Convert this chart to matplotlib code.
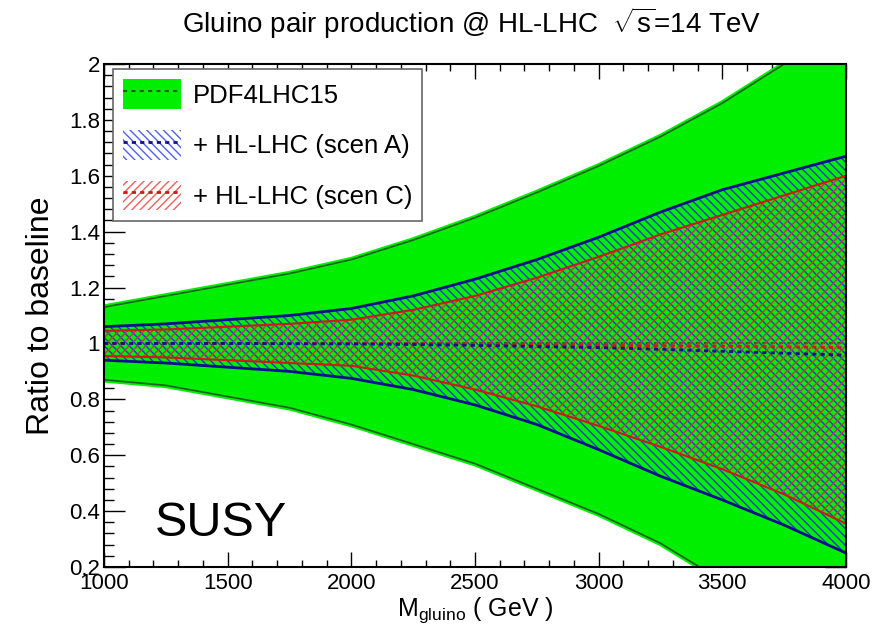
import matplotlib.pyplot as plt
from matplotlib.lines import Line2D
from matplotlib.patches import Patch
from matplotlib.ticker import MultipleLocator, AutoMinorLocator, FuncFormatter

plt.rcParams['font.family'] = ['Liberation Sans', 'DejaVu Sans']
plt.rcParams['mathtext.fontset'] = 'custom'
plt.rcParams['mathtext.rm'] = 'Liberation Sans'
plt.rcParams['mathtext.it'] = 'Liberation Sans:italic'
plt.rcParams['hatch.linewidth'] = 1.0

# gluino mass points (GeV)
mass = [1000, 1250, 1500, 1750, 2000, 2250, 2500, 2750, 3000, 3250, 3500, 3750, 4000]

# PDF4LHC15 baseline band
pdf_up = [1.13, 1.17, 1.21, 1.25, 1.30, 1.37, 1.45, 1.54, 1.635, 1.74, 1.86, 2.00, 2.16]
pdf_dn = [0.87, 0.85, 0.81, 0.77, 0.71, 0.64, 0.57, 0.48, 0.39, 0.285, 0.15, 0.00, -0.17]
pdf_cen = [1.0] * 13

# + HL-LHC scenario A
scA_up = [1.06, 1.07, 1.085, 1.10, 1.125, 1.17, 1.23, 1.30, 1.38, 1.47, 1.55, 1.61, 1.67]
scA_dn = [0.94, 0.93, 0.915, 0.90, 0.875, 0.835, 0.78, 0.71, 0.62, 0.525, 0.44, 0.35, 0.25]
scA_cen = [1.0, 1.0, 1.0, 0.999, 0.998, 0.996, 0.993, 0.989, 0.985, 0.979, 0.972, 0.965, 0.958]

# + HL-LHC scenario C
scC_up = [1.045, 1.05, 1.06, 1.07, 1.085, 1.12, 1.17, 1.235, 1.31, 1.39, 1.46, 1.53, 1.60]
scC_dn = [0.955, 0.95, 0.94, 0.93, 0.92, 0.885, 0.835, 0.775, 0.705, 0.63, 0.55, 0.46, 0.355]
scC_cen = [1.0, 1.0, 1.0, 1.0, 1.0, 0.999, 0.998, 0.996, 0.993, 0.992, 0.99, 0.988, 0.985]

green = '#00ee00'
dkgreen = '#1f5f1f'
navy = '#10108c'
red = '#d01818'
hatch_blue = '#2838c8'
hatch_red = '#c83838'

fig = plt.figure(figsize=(8.72, 6.31), dpi=100)
ax = fig.add_axes([0.1193, 0.1014, 0.8509, 0.7972])
ax.set_axisbelow(True)

# baseline band
ax.fill_between(mass, pdf_dn, pdf_up, color=green, lw=0, zorder=1)
for edge in (pdf_up, pdf_dn):
    ax.plot(mass, edge, color=green, lw=4, zorder=1.1)
    ax.plot(mass, edge, color=dkgreen, lw=1.2, zorder=1.2)
ax.plot(mass, pdf_cen, color=dkgreen, lw=1.5, ls=(0, (2, 2)), zorder=1.3)

# scenario bands (hatched)
ax.fill_between(mass, scA_dn, scA_up, facecolor='none', edgecolor=hatch_blue,
                lw=0, hatch='\\\\\\\\', zorder=2)
ax.fill_between(mass, scC_dn, scC_up, facecolor='none', edgecolor=hatch_red,
                lw=0, hatch='////', zorder=2.1)
for edge in (scA_up, scA_dn):
    ax.plot(mass, edge, color=navy, lw=2, zorder=3)
for edge in (scC_up, scC_dn):
    ax.plot(mass, edge, color=red, lw=1.5, zorder=3.1)
ax.plot(mass, scC_cen, color=red, lw=2, ls=(0, (1.5, 1.5)), zorder=3.2)
ax.plot(mass, scA_cen, color=navy, lw=2, ls=(0, (1.5, 1.5)), zorder=3.3)

ax.set_xlim(1000, 4000)
ax.set_ylim(0.2, 2.0)
ax.xaxis.set_major_locator(MultipleLocator(500))
ax.xaxis.set_minor_locator(MultipleLocator(100))
ax.yaxis.set_major_locator(MultipleLocator(0.2))
ax.yaxis.set_minor_locator(AutoMinorLocator(5))
ax.yaxis.set_major_formatter(FuncFormatter(lambda v, p: '%g' % round(v, 2)))
ax.tick_params(axis='x', which='both', direction='in', top=True, labelsize=16, pad=4)
ax.tick_params(axis='x', which='major', length=11, width=1)
ax.tick_params(axis='x', which='minor', length=5, width=1)
ax.tick_params(axis='y', which='both', direction='in', right=True, labelsize=16, pad=3)
ax.tick_params(axis='y', which='major', length=15, width=1)
ax.tick_params(axis='y', which='minor', length=7, width=1)
for s in ax.spines.values():
    s.set_linewidth(1.5)
    s.set_zorder(5)

ax.set_xlabel(r'M$_{\mathrm{gluino}}$ ( GeV )', fontsize=18, labelpad=1)
ax.set_ylabel('Ratio to baseline', fontsize=23, labelpad=9)
fig.text(0.541, 0.963, r'Gluino pair production @ HL-LHC  $\sqrt{\mathrm{s}}$=14 TeV',
         ha='center', va='center', fontsize=20)
ax.text(1206, 0.31, 'SUSY', fontsize=35, ha='left', va='baseline', zorder=6)

handles = [
    (Patch(facecolor=green, edgecolor='none'),
     Line2D([], [], color=dkgreen, lw=1.5, ls=(0, (2, 2)))),
    (Patch(facecolor='white', edgecolor='#5060f0', lw=0, hatch='\\\\\\\\'),
     Line2D([], [], color=navy, lw=2, ls=(0, (1.5, 1.5)))),
    (Patch(facecolor='white', edgecolor='#f06060', lw=0, hatch='////'),
     Line2D([], [], color=red, lw=2, ls=(0, (1.5, 1.5)))),
]
labels = ['PDF4LHC15', '+ HL-LHC (scen A)', '+ HL-LHC (scen C)']
leg = ax.legend(handles, labels, loc='upper left', bbox_to_anchor=(0.012, 0.99),
                fontsize=18.5, frameon=True, fancybox=False, framealpha=1,
                edgecolor='#666666', handlelength=2.25, handleheight=1.4,
                handletextpad=0.45, labelspacing=0.82, borderpad=0.4,
                borderaxespad=0)
leg.get_frame().set_linewidth(1.2)
leg.set_zorder(7)

fig.savefig('out.png', dpi=100)
